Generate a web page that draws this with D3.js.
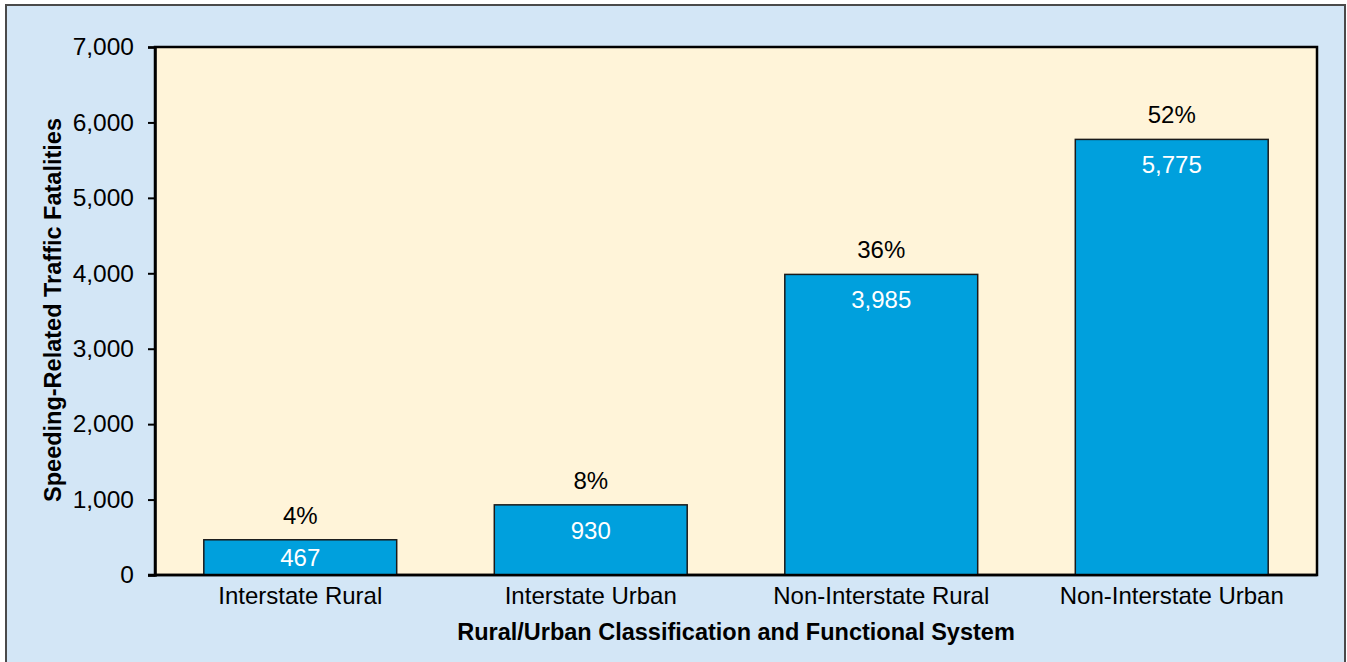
<!DOCTYPE html>
<html>
<head>
<meta charset="utf-8">
<script src="https://cdn.jsdelivr.net/npm/d3@7"></script>
<style>
  html, body { margin: 0; padding: 0; background: #ffffff; }
  svg { display: block; font-family: "Liberation Sans", Arial, sans-serif; }
</style>
</head>
<body>
<svg id="chart" width="1347" height="662"></svg>
<script>
// Speeding-related traffic fatalities by rural/urban classification and functional system
const categories = ["Interstate Rural", "Interstate Urban", "Non-Interstate Rural", "Non-Interstate Urban"];
const fatalities = [467, 930, 3985, 5775];
const shares = ["4%", "8%", "36%", "52%"];
const yTicks = [0, 1000, 2000, 3000, 4000, 5000, 6000, 7000];
const xTitle = "Rural/Urban Classification and Functional System";
const yTitle = "Speeding-Related Traffic Fatalities";

const W = 1347, H = 662;
const margin = { top: 47, right: 30, bottom: 87, left: 155 };
const plotW = W - margin.left - margin.right;
const plotH = H - margin.top - margin.bottom;

const svg = d3.select("#chart");

// outer panel
svg.append("rect")
  .attr("x", 6).attr("y", 5)
  .attr("width", W - 8).attr("height", H)
  .attr("fill", "#d3e6f6")
  .attr("stroke", "#4a4a4a")
  .attr("stroke-width", 2);

const g = svg.append("g").attr("transform", `translate(${margin.left},${margin.top})`);

const x = d3.scaleBand()
  .domain(categories)
  .range([0, plotW])
  .paddingInner(0.336)
  .paddingOuter(0.168);

const y = d3.scaleLinear()
  .domain([0, 7000])
  .range([plotH, 0]);

// plot background
g.append("rect")
  .attr("x", 0).attr("y", 0)
  .attr("width", plotW).attr("height", plotH)
  .attr("fill", "#fff4d9")
  .attr("stroke", "#000")
  .attr("stroke-width", 2.5);

// bars
g.selectAll("rect.bar")
  .data(fatalities)
  .join("rect")
  .attr("class", "bar")
  .attr("x", (d, i) => x(categories[i]))
  .attr("y", d => y(d))
  .attr("width", x.bandwidth())
  .attr("height", d => y(0) - y(d))
  .attr("fill", "#00a0dd")
  .attr("stroke", "#1a1a1a")
  .attr("stroke-width", 1.5);

// value labels inside the bar top
g.selectAll("text.val")
  .data(fatalities)
  .join("text")
  .attr("class", "val")
  .attr("x", (d, i) => x(categories[i]) + x.bandwidth() / 2)
  .attr("y", d => Math.min(y(d) + 34, (y(d) + y(0)) / 2 + 8.5))
  .attr("text-anchor", "middle")
  .attr("fill", "#ffffff")
  .attr("font-size", 24)
  .text(d => d3.format(",")(d));

// share labels above the bars
g.selectAll("text.pct")
  .data(fatalities)
  .join("text")
  .attr("class", "pct")
  .attr("x", (d, i) => x(categories[i]) + x.bandwidth() / 2)
  .attr("y", d => y(d) - 16)
  .attr("text-anchor", "middle")
  .attr("fill", "#000")
  .attr("font-size", 24)
  .text((d, i) => shares[i]);

// y axis
const yAxis = g.append("g")
  .call(d3.axisLeft(y).tickValues(yTicks).tickFormat(d3.format(",")).tickSize(7).tickPadding(14));
yAxis.select(".domain").attr("stroke", "#000").attr("stroke-width", 2.5);
yAxis.selectAll(".tick line").attr("stroke", "#000").attr("stroke-width", 2);
yAxis.selectAll(".tick text")
  .attr("font-size", 24.5)
  .attr("font-family", "Liberation Sans, Arial, sans-serif")
  .attr("fill", "#000");

// x axis
const xAxis = g.append("g")
  .attr("transform", `translate(0,${plotH})`)
  .call(d3.axisBottom(x).tickSize(0).tickPadding(12));
xAxis.select(".domain").remove();
g.append("line")
  .attr("x1", -7).attr("x2", plotW)
  .attr("y1", plotH).attr("y2", plotH)
  .attr("stroke", "#000").attr("stroke-width", 2.5);
xAxis.selectAll(".tick text")
  .attr("font-size", 24)
  .attr("font-family", "Liberation Sans, Arial, sans-serif")
  .attr("fill", "#000")
  .attr("dy", "0.71em");

// axis titles
svg.append("text")
  .attr("x", margin.left + plotW / 2)
  .attr("y", 640)
  .attr("text-anchor", "middle")
  .attr("font-size", 23.5)
  .attr("font-weight", "bold")
  .text(xTitle);

svg.append("text")
  .attr("transform", `translate(61,310) rotate(-90)`)
  .attr("text-anchor", "middle")
  .attr("font-size", 23.5)
  .attr("font-weight", "bold")
  .text(yTitle);
</script>
</body>
</html>
